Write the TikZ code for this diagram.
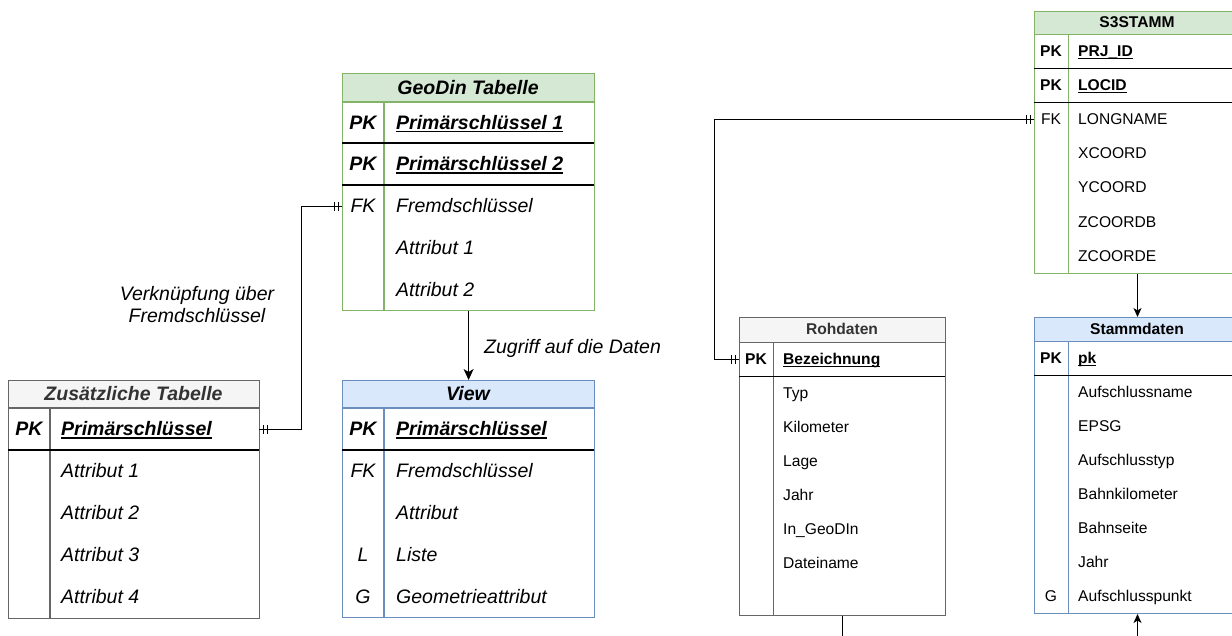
\documentclass[tikz,border=0pt]{standalone}
\usepackage{fontspec}
\setmainfont{Liberation Sans}
\usetikzlibrary{arrows.meta,decorations.markings}
\definecolor{gfill}{HTML}{D5E8D4}
\definecolor{gline}{HTML}{82B366}
\definecolor{bfill}{HTML}{DAE8FC}
\definecolor{bline}{HTML}{6C8EBF}
\definecolor{xfill}{HTML}{F5F5F5}
\definecolor{xline}{HTML}{666666}
\definecolor{xtext}{HTML}{333333}
\newcommand\keyul[1]{\setbox0\hbox{#1}\rlap{\rule[-2.8pt]{\wd0}{1.3pt}}\box0}
\tikzset{
  frame/.style={draw, line width=1.2pt, anchor=north west, inner sep=0pt},
  rowbox/.style={anchor=north west, inner sep=0pt},
  keyline/.style={draw=black, line width=1.2pt},
  lf/.style={font=\fontsize{19.5pt}{23pt}\selectfont\itshape, inner sep=0pt, text height=17.6pt, text depth=4.1pt},
  lb/.style={font=\fontsize{19.5pt}{23pt}\selectfont\bfseries\itshape, inner sep=0pt, text height=17.6pt, text depth=4.1pt},
  rf/.style={font=\fontsize{15.6pt}{19pt}\selectfont, inner sep=0pt, text height=14.1pt, text depth=3.3pt},
  rb/.style={font=\fontsize{15.6pt}{19pt}\selectfont\bfseries, inner sep=0pt, text height=14.1pt, text depth=3.3pt},
  barmark/.style={decoration={markings,
      mark=at position 4pt with {\draw[line width=0.9pt] (0pt,-4.5pt) -- (0pt,4.5pt);},
      mark=at position 8pt with {\draw[line width=0.9pt] (0pt,-4.5pt) -- (0pt,4.5pt);},
      mark=at position -4pt with {\draw[line width=0.9pt] (0pt,-4.5pt) -- (0pt,4.5pt);},
      mark=at position -8pt with {\draw[line width=0.9pt] (0pt,-4.5pt) -- (0pt,4.5pt);}}},
  erline/.style={draw=black, line width=1pt, postaction={decorate, barmark}},
  bigarrow/.style={draw=black, line width=1.2pt, -{Stealth[length=11pt,width=10pt,inset=3pt]}},
  smallarrow/.style={draw=black, line width=1pt, -{Stealth[length=9pt,width=8pt,inset=2.5pt]}},
}
\begin{document}
\begin{tikzpicture}[x=1pt,y=-1pt]
\useasboundingbox (0,0) rectangle (1232,635);

% ---------------- GeoDin Tabelle ----------------
\fill[gfill] (342,73) rectangle (594,102);
\node[frame, draw=gline, minimum width=252pt, minimum height=237pt] (geo) at (342,73) {};
\draw[gline, line width=1.2pt] (342,102) -- (594,102);
\draw[gline, line width=1.2pt] (384,102) -- (384,310);
\draw[keyline] (342,143) -- (594,143);
\draw[keyline] (342,185) -- (594,185);
\node[rowbox, minimum width=252pt, minimum height=42pt] (gfk) at (342,185) {};
\node[lb] (geoh) at (468,87.5) {GeoDin Tabelle};
\node[lb] (gk1) at (363,122.5) {PK};
\node[lb, anchor=west] (gv1) at (396,122.5) {\keyul{Primärschlüssel 1}};
\node[lb] (gk2) at (363,164) {PK};
\node[lb, anchor=west] (gv2) at (396,164) {\keyul{Primärschlüssel 2}};
\node[lf] (gk3) at (363,206) {FK};
\node[lf, anchor=west] (gv3) at (396,206) {Fremdschlüssel};
\node[lf, anchor=west] (gv4) at (396,248) {Attribut 1};
\node[lf, anchor=west] (gv5) at (396,289.5) {Attribut 2};

% ---------------- View ----------------
\fill[bfill] (342,380) rectangle (594,408);
\node[frame, draw=bline, minimum width=252pt, minimum height=237pt] (view) at (342,380) {};
\draw[bline, line width=1.2pt] (342,408) -- (594,408);
\draw[bline, line width=1.2pt] (384,408) -- (384,617);
\draw[keyline] (342,450) -- (594,450);
\node[lb] (viewh) at (468,394) {View};
\node[lb] (vk1) at (363,429) {PK};
\node[lb, anchor=west] (vv1) at (396,429) {\keyul{Primärschlüssel}};
\node[lf] (vk2) at (363,471) {FK};
\node[lf, anchor=west] (vv2) at (396,471) {Fremdschlüssel};
\node[lf, anchor=west] (vv3) at (396,513) {Attribut};
\node[lf] (vk4) at (363,555) {L};
\node[lf, anchor=west] (vv4) at (396,555) {Liste};
\node[lf] (vk5) at (363,596.5) {G};
\node[lf, anchor=west] (vv5) at (396,596.5) {Geometrieattribut};

% ---------------- Zusaetzliche Tabelle ----------------
\fill[xfill] (8,380) rectangle (259,408);
\node[frame, draw=xline, minimum width=251pt, minimum height=238pt] (zus) at (8,380) {};
\draw[xline, line width=1.2pt] (8,408) -- (259,408);
\draw[xline, line width=1.2pt] (50,408) -- (50,618);
\draw[keyline] (8,450) -- (259,450);
\node[rowbox, minimum width=251pt, minimum height=42pt] (zpk) at (8,408) {};
\node[lb, text=xtext] (zush) at (133.5,394) {Zusätzliche Tabelle};
\node[lb] (zk1) at (29,429) {PK};
\node[lb, anchor=west] (zv1) at (61,429) {\keyul{Primärschlüssel}};
\node[lf, anchor=west] (zv2) at (61,471) {Attribut 1};
\node[lf, anchor=west] (zv3) at (61,513) {Attribut 2};
\node[lf, anchor=west] (zv4) at (61,555) {Attribut 3};
\node[lf, anchor=west] (zv5) at (61,597) {Attribut 4};

% ---------------- S3STAMM ----------------
\fill[gfill] (1034,11) rectangle (1240,34);
\node[frame, draw=gline, line width=1pt, minimum width=206pt, minimum height=262pt] (s3) at (1034,11) {};
\draw[gline, line width=1pt] (1034,34) -- (1240,34);
\draw[gline, line width=1pt] (1068,34) -- (1068,273);
\draw[keyline, line width=1pt] (1034,68) -- (1240,68);
\draw[keyline, line width=1pt] (1034,102) -- (1240,102);
\node[rowbox, minimum width=206pt, minimum height=34pt] (sfk) at (1034,102) {};
\node[rb] (s3h) at (1137,22.5) {S3STAMM};
\node[rb] (sk1) at (1051,51) {PK};
\node[rb, anchor=west] (sv1) at (1078,51) {\keyul{PRJ\_ID}};
\node[rb] (sk2) at (1051,85) {PK};
\node[rb, anchor=west] (sv2) at (1078,85) {\keyul{LOCID}};
\node[rf] (sk3) at (1051,119) {FK};
\node[rf, anchor=west] (sv3) at (1078,119) {LONGNAME};
\node[rf, anchor=west] (sv4) at (1078,153) {XCOORD};
\node[rf, anchor=west] (sv5) at (1078,187.5) {YCOORD};
\node[rf, anchor=west] (sv6) at (1078,222) {ZCOORDB};
\node[rf, anchor=west] (sv7) at (1078,256.5) {ZCOORDE};

% ---------------- Rohdaten ----------------
\fill[xfill] (739,317) rectangle (945,342);
\node[frame, draw=xline, line width=1pt, minimum width=206pt, minimum height=298pt] (roh) at (739,317) {};
\draw[xline, line width=1pt] (739,342) -- (945,342);
\draw[xline, line width=1pt] (773,342) -- (773,615);
\draw[keyline, line width=1pt] (739,376) -- (945,376);
\node[rowbox, minimum width=206pt, minimum height=34pt] (rpk) at (739,342) {};
\node[rb, text=xtext] (rohh) at (842,329.5) {Rohdaten};
\node[rb] (rk1) at (756,359) {PK};
\node[rb, anchor=west] (rv1) at (783,359) {\keyul{Bezeichnung}};
\node[rf, anchor=west] (rv2) at (783,393) {Typ};
\node[rf, anchor=west] (rv3) at (783,427) {Kilometer};
\node[rf, anchor=west] (rv4) at (783,461) {Lage};
\node[rf, anchor=west] (rv5) at (783,495) {Jahr};
\node[rf, anchor=west] (rv6) at (783,529) {In\_GeoDIn};
\node[rf, anchor=west] (rv7) at (783,563) {Dateiname};

% ---------------- Stammdaten ----------------
\fill[bfill] (1034,317) rectangle (1240,341);
\node[frame, draw=bline, line width=1pt, minimum width=206pt, minimum height=296pt] (stm) at (1034,317) {};
\draw[bline, line width=1pt] (1034,341) -- (1240,341);
\draw[bline, line width=1pt] (1068,341) -- (1068,613);
\draw[keyline, line width=1pt] (1034,375) -- (1240,375);
\node[rb] (stmh) at (1137,329) {Stammdaten};
\node[rb] (tk1) at (1051,358) {PK};
\node[rb, anchor=west] (tv1) at (1078,358) {\keyul{pk}};
\node[rf, anchor=west] (tv2) at (1078,392) {Aufschlussname};
\node[rf, anchor=west] (tv3) at (1078,426) {EPSG};
\node[rf, anchor=west] (tv4) at (1078,460.5) {Aufschlusstyp};
\node[rf, anchor=west] (tv5) at (1078,494.5) {Bahnkilometer};
\node[rf, anchor=west] (tv6) at (1078,528.5) {Bahnseite};
\node[rf, anchor=west] (tv7) at (1078,562.5) {Jahr};
\node[rf] (tk8) at (1051,596.5) {G};
\node[rf, anchor=west] (tv8) at (1078,596.5) {Aufschlusspunkt};

% ---------------- Labels ----------------
\node[font=\fontsize{19.5pt}{22pt}\selectfont\itshape, align=center, inner sep=0pt] (lverk) at (197,305) {Verknüpfung über\\Fremdschlüssel};
\node[lf, anchor=west] (lzug) at (484,347) {Zugriff auf die Daten};

% ---------------- Connectors ----------------
\draw[erline] (zpk.east) -- ++(42,0) |- (gfk.west);
\draw[erline] (sfk.west) -- ++(-320,0) |- (rpk.west);
\draw[bigarrow] (geo.south) -- (view.north);
\draw[smallarrow] (s3.south) -- (stm.north);
\draw[smallarrow] (roh.south) -- ++(0,50) -| (stm.south);
\end{tikzpicture}
\end{document}
